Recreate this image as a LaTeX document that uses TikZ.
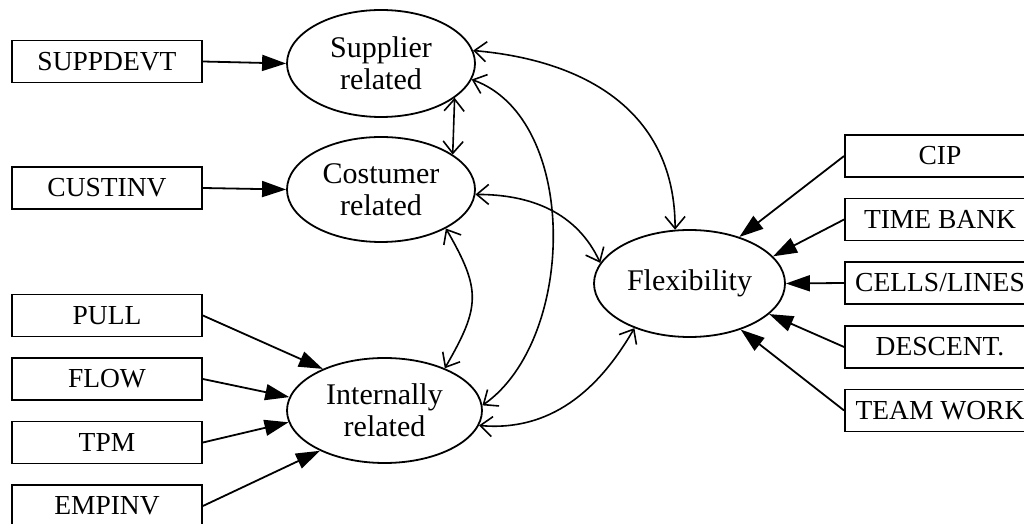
\documentclass[tikz,border=0pt]{standalone}
\usepackage{fontspec}
\setmainfont{Liberation Serif}
\usepackage{tikz}
\usetikzlibrary{shapes.geometric}
\usetikzlibrary{arrows.meta}

\begin{document}
\begin{tikzpicture}[x=1pt,y=1pt,
  every node/.style={font=\fontsize{27.5}{32}\selectfont},
  obs/.style={draw,line width=1.8pt,rectangle,minimum width=190pt,minimum height=42pt,inner sep=0pt},
  lat/.style={draw,line width=1.8pt,ellipse,align=center,inner sep=0pt,font=\fontsize{30}{32}\selectfont},
  load/.style={line width=1.8pt,-{Triangle[length=24pt,width=16pt]}},
  cov/.style={line width=1.6pt,{Straight Barb[length=12pt,width=20pt]}-{Straight Barb[length=12pt,width=20pt]}}]
\useasboundingbox (0,0) rectangle (1024,524);

% latent factors
\node[lat,minimum width=188pt,minimum height=107pt] (sup) at (381,460.5) {Supplier\\related};
\node[lat,minimum width=188pt,minimum height=105pt] (cos) at (381,334.5) {Costumer\\related};
\node[lat,minimum width=195pt,minimum height=105pt] (int) at (384.5,113.5) {Internally\\related};
\node[lat,minimum width=191pt,minimum height=107pt] (flex) at (689.5,240.5) {Flexibility};

% indicators on the left
\node[obs] (suppdevt) at (107,462.5) {SUPPDEVT};
\node[obs] (custinv) at (107,336) {CUSTINV};
\node[obs] (pull) at (107,208.5) {PULL};
\node[obs] (flow) at (107,145) {FLOW};
\node[obs] (tpm) at (107,81.5) {TPM};
\node[obs] (empinv) at (107,18) {EMPINV};

% indicators on the right
\node[obs] (cip) at (940,368) {CIP};
\node[obs] (timebank) at (940,304.5) {TIME BANK};
\node[obs] (cells) at (940,241) {CELLS/LINES};
\node[obs] (descent) at (940,177) {DESCENT.};
\node[obs] (teamwork) at (940,113.5) {TEAM WORK};

% loadings
\draw[load] (suppdevt.east) -- (sup.west);
\draw[load] (custinv.east) -- (cos.west);
\draw[load] (pull.east) -- (int.146);
\draw[load] (flow.east) -- (int.172);
\draw[load] (tpm.east) -- (int.187);
\draw[load] (empinv.east) -- (int.212);
\draw[load] (cip.west) -- (flex.43);
\draw[load] (timebank.west) -- (flex.18);
\draw[load] (cells.west) -- (flex.east);
\draw[load] (descent.west) -- (flex.-21);
\draw[load] (teamwork.west) -- (flex.-42);

% covariances
\draw[cov] (sup.-25) -- (cos.26);
\draw[cov] (sup.8) to[out=-5,in=90,looseness=1.1] (flex.105);
\draw[cov] (sup.-10) to[out=-20,in=35,looseness=0.9] (int.3);
\draw[cov] (cos.-3) to[out=0,in=115] (flex.167);
\draw[cov] (cos.-31) to[out=-60,in=60,looseness=1.3] (int.35);
\draw[cov] (int.-9) to[out=-5,in=-120] (flex.-141);
\end{tikzpicture}
\end{document}
